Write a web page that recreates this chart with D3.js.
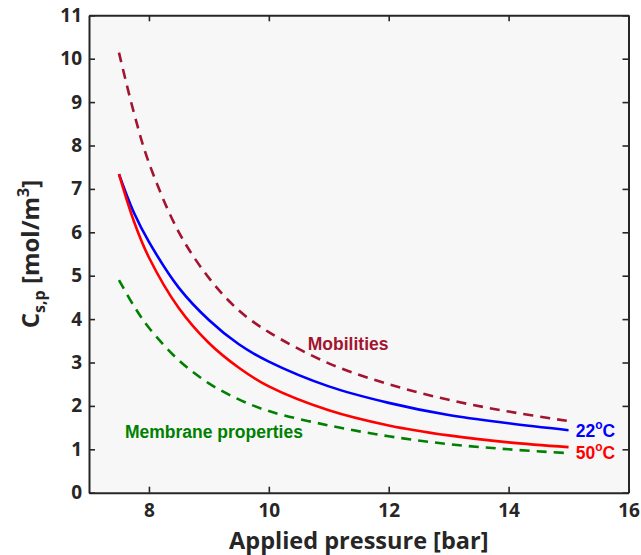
<!DOCTYPE html>
<html>
<head>
  <meta charset="utf-8">
  <title>Cs,p vs applied pressure</title>
  <script src="https://d3js.org/d3.v7.min.js"></script>
  <style>
    body { margin: 0; background: #fff; }
    .axis path, .axis line { stroke: #262626; }
    .axis text { font-family: "Open Sans", sans-serif; font-weight: 700; fill: #262626; }
  </style>
</head>
<body>
<script>
// values
var pressure = [7.5, 7.75, 8, 8.5, 9, 9.5, 10, 11, 12, 13, 14, 15];
var temp22   = [7.34, 6.45, 5.78, 4.72, 3.98, 3.42, 3.02, 2.45, 2.07, 1.79, 1.60, 1.44];
var temp50   = [7.34, 6.25, 5.42, 4.25, 3.45, 2.88, 2.45, 1.90, 1.55, 1.32, 1.16, 1.05];
var mobilities = [10.14, 8.75, 7.60, 6.00, 4.95, 4.20, 3.70, 2.98, 2.50, 2.14, 1.87, 1.65];
var membrane   = [4.90, 4.30, 3.80, 3.05, 2.52, 2.15, 1.88, 1.55, 1.30, 1.12, 1.00, 0.91];
var xTicks = [8, 10, 12, 14, 16];
var yTicks = [0, 1, 2, 3, 4, 5, 6, 7, 8, 9, 10, 11];

var svgWidth = 641, svgHeight = 555;
var margin = {left: 89, top: 15.3, right: 12.5, bottom: 62.3};
var w = svgWidth - margin.left - margin.right;
var h = svgHeight - margin.top - margin.bottom;

var svg = d3.select('body').append('svg')
    .attr('width', svgWidth)
    .attr('height', svgHeight);

var g = svg.append('g')
    .attr('transform', 'translate(' + margin.left + ',' + margin.top + ')');

var x = d3.scaleLinear().domain([7, 16]).range([0, w]);
var y = d3.scaleLinear().domain([0, 11]).range([h, 0]);

g.append('rect')
    .attr('width', w).attr('height', h)
    .attr('fill', '#f7f7f7');

g.append('clipPath').attr('id', 'clip')
  .append('rect').attr('width', w).attr('height', h);

var series = [
  {name: 'mob', values: mobilities, color: '#a2142f', dash: '10,7'},
  {name: 'mem', values: membrane, color: '#008000', dash: '10,7'},
  {name: 't22', values: temp22, color: '#0000ff', dash: null},
  {name: 't50', values: temp50, color: '#ff0000', dash: null}
];

var line = d3.line()
    .curve(d3.curveCatmullRom.alpha(0.5))
    .x(function(d) { return x(d[0]); })
    .y(function(d) { return y(d[1]); });

g.append('g').attr('clip-path', 'url(#clip)')
  .selectAll('path')
  .data(series)
  .enter().append('path')
    .attr('fill', 'none')
    .attr('stroke', function(d) { return d.color; })
    .attr('stroke-width', 2.6)
    .attr('stroke-dasharray', function(d) { return d.dash; })
    .attr('d', function(d) { return line(pressure.map(function(p, i) { return [p, d.values[i]]; })); });

// axes, ticks inside on all four sides
g.append('g').attr('class', 'axis')
    .attr('transform', 'translate(0,' + h + ')')
    .call(d3.axisBottom(x).tickValues(xTicks).tickSize(-6).tickPadding(11).tickSizeOuter(0))
    .selectAll('text').style('font-size', '19px');

g.append('g').attr('class', 'axis')
    .call(d3.axisLeft(y).tickValues(yTicks).tickSize(-6).tickPadding(7).tickSizeOuter(0))
    .selectAll('text').style('font-size', '19px');

g.append('g').attr('class', 'axis')
    .call(d3.axisTop(x).tickValues(xTicks).tickSize(-6).tickSizeOuter(0).tickFormat(''));

g.append('g').attr('class', 'axis')
    .attr('transform', 'translate(' + w + ',0)')
    .call(d3.axisRight(y).tickValues(yTicks).tickSize(-6).tickSizeOuter(0).tickFormat(''));

g.selectAll('.axis path').attr('stroke-width', 2);
g.selectAll('.axis line').attr('stroke-width', 1.6);

// axis titles
svg.append('text')
    .attr('x', margin.left + w / 2)
    .attr('y', 549)
    .attr('text-anchor', 'middle')
    .style('font-family', '"Open Sans", sans-serif')
    .style('font-weight', 700)
    .style('font-size', '23.5px')
    .attr('fill', '#262626')
    .text('Applied pressure [bar]');

var ylab = svg.append('text')
    .attr('transform', 'translate(39,' + (margin.top + h / 2) + ') rotate(-90)')
    .attr('text-anchor', 'middle')
    .style('font-family', '"Open Sans", sans-serif')
    .style('font-weight', 700)
    .style('font-size', '24px')
    .attr('fill', '#262626');
ylab.append('tspan').text('C');
ylab.append('tspan').attr('dy', 6).style('font-size', '16px').text('s,p');
ylab.append('tspan').attr('dy', -6).text('  [mol/m');
ylab.append('tspan').attr('dy', -10).style('font-size', '16px').text('3');
ylab.append('tspan').attr('dy', 10).text(']');

// annotations
function note(px, cy, color, parts) {
  var t = g.append('text')
      .attr('x', x(px)).attr('y', y(cy))
      .style('font-family', '"Liberation Sans", Arial, sans-serif')
      .style('font-weight', 700)
      .style('font-size', '17.5px')
      .attr('fill', color);
  parts.forEach(function(p) {
    var s = t.append('tspan').text(p.t);
    if (p.sup) s.attr('dy', -8).style('font-size', '12px');
    if (p.down) s.attr('dy', 8);
  });
}
note(10.65, 3.28, '#a2142f', [{t: 'Mobilities'}]);
note(7.6, 1.27, '#008000', [{t: 'Membrane properties'}]);
note(15.12, 1.28, '#0000ff', [{t: '22'}, {t: 'o', sup: true}, {t: 'C', down: true}]);
note(15.12, 0.77, '#ff0000', [{t: '50'}, {t: 'o', sup: true}, {t: 'C', down: true}]);
</script>
</body>
</html>
